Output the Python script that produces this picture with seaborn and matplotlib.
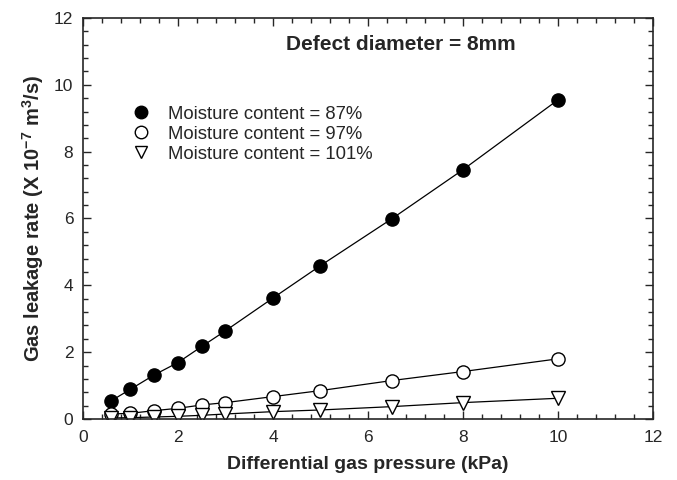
import numpy as np
import pandas as pd
import matplotlib
matplotlib.use("Agg")
import matplotlib.pyplot as plt
from matplotlib.ticker import MultipleLocator
import seaborn as sns

# data
pressure = [0.6, 1.0, 1.5, 2.0, 2.5, 3.0, 4.0, 5.0, 6.5, 8.0, 10.0]
rate_87 = [0.55, 0.89, 1.32, 1.69, 2.17, 2.64, 3.62, 4.59, 5.99, 7.46, 9.55]
rate_97 = [0.15, 0.17, 0.25, 0.32, 0.42, 0.49, 0.67, 0.85, 1.15, 1.42, 1.80]
rate_101 = [0.03, 0.04, 0.06, 0.08, 0.11, 0.15, 0.22, 0.27, 0.37, 0.49, 0.62]
labels = ["Moisture content = 87%", "Moisture content = 97%", "Moisture content = 101%"]

sns.set_style("ticks")
plt.rcParams['font.family'] = ['Liberation Sans', 'DejaVu Sans']
plt.rcParams['mathtext.fontset'] = 'custom'
plt.rcParams['mathtext.rm'] = 'Liberation Sans:bold'
plt.rcParams['mathtext.bf'] = 'Liberation Sans:bold'

fig, ax = plt.subplots(figsize=(6.77, 4.8), dpi=100)
fig.subplots_adjust(left=0.1226, right=0.9645, top=0.9625, bottom=0.1271)

styles = [
    dict(marker='o', markerfacecolor='black'),
    dict(marker='o', markerfacecolor='white'),
    dict(marker='v', markerfacecolor='white'),
]
for rates, lab, st in zip([rate_87, rate_97, rate_101], labels, styles):
    sns.lineplot(x=pressure, y=rates, ax=ax, color='black', linewidth=0.9,
                 markersize=9.5, markeredgecolor='black', markeredgewidth=1.0,
                 label=lab, **st)

ax.set_xlim(0, 12)
ax.set_ylim(0, 12)
ax.xaxis.set_major_locator(MultipleLocator(2))
ax.xaxis.set_minor_locator(MultipleLocator(0.4))
ax.yaxis.set_major_locator(MultipleLocator(2))
ax.yaxis.set_minor_locator(MultipleLocator(0.4))
ax.tick_params(which='both', direction='in', top=True, right=True, labelsize=12.5, width=1)
ax.tick_params(which='major', length=6)
ax.tick_params(axis='x', which='major', pad=8)
ax.tick_params(axis='y', which='major', pad=7)
ax.tick_params(which='minor', length=3.5)
for sp in ax.spines.values():
    sp.set_linewidth(1.2)

ax.set_xlabel('Differential gas pressure (kPa)', fontsize=14, fontweight='bold', labelpad=8)
ax.set_ylabel('Gas leakage rate (X 10$^{-7}$ m$^{3}$/s)', fontsize=14.5, fontweight='bold', labelpad=6)

ax.text(0.558, 0.933, 'Defect diameter = 8mm', transform=ax.transAxes,
        ha='center', va='center', fontsize=15, fontweight='bold')

leg = ax.legend(loc='upper left', bbox_to_anchor=(0.073, 0.80), frameon=False,
                fontsize=13.3, handlelength=1.0, handletextpad=0.95, labelspacing=0.17,
                borderaxespad=0)
for h in leg.legend_handles:
    h.set_linestyle('none')
    h.set_markersize(9)

plt.savefig('out.png', dpi=100)
